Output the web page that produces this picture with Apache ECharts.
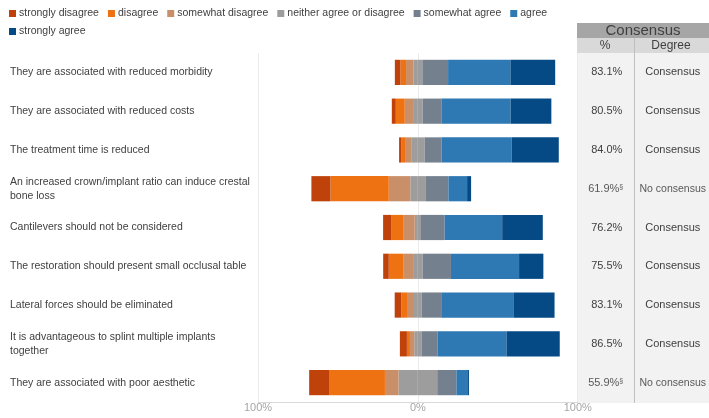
<!DOCTYPE html>
<html>
<head>
<meta charset="utf-8">
<script src="https://cdn.jsdelivr.net/npm/echarts@6/dist/echarts.min.js"></script>
<style>
  html, body { margin: 0; padding: 0; background: #fff; }
  #chart { width: 709px; height: 418px; }
</style>
</head>
<body>
<div id="chart"></div>
<script>
// statements (top to bottom)
const categories = [
  "They are associated with reduced morbidity",
  "They are associated with reduced costs",
  "The treatment time is reduced",
  "An increased crown/implant ratio can induce crestal\nbone loss",
  "Cantilevers should not be considered",
  "The restoration should present small occlusal table",
  "Lateral forces should be eliminated",
  "It is advantageous to splint multiple implants\ntogether",
  "They are associated with poor aesthetic"
];

// answer shares in %
const stronglyDisagree = [3.5, 2.5, 1.5, 11.9, 5.0, 3.5, 4.2, 4.4, 12.4];
const disagree         = [3.5, 5.6, 2.7, 36.5, 7.9, 9.0, 3.5, 1.9, 35.0];
const somewhatDisagree = [4.6, 5.2, 3.4, 13.5, 6.9, 6.2, 4.4, 2.7, 8.5];
const neither          = [5.6, 6.0, 8.3, 9.4, 3.9, 6.0, 4.8, 4.5, 24.2];
const somewhatAgree    = [16.1, 11.7, 10.6, 14.4, 14.8, 17.7, 12.2, 10.0, 12.0];
const agree            = [39.0, 43.3, 44.0, 11.7, 36.0, 42.6, 45.5, 43.2, 7.3];
const stronglyAgree    = [28.0, 25.5, 29.4, 2.5, 25.4, 15.2, 25.4, 33.3, 0.6];

// consensus table
const consensusPct = [83.1, 80.5, 84.0, 61.9, 76.2, 75.5, 83.1, 86.5, 55.9];
const consensusDegree = ["Consensus", "Consensus", "Consensus", "No consensus", "Consensus",
  "Consensus", "Consensus", "Consensus", "No consensus"];

const xTicks = [-100, 0, 100];

const names = ["strongly disagree", "disagree", "somewhat disagree", "neither agree or disagree",
  "somewhat agree", "agree", "strongly agree"];
const colors = ["#bf420b", "#ee7211", "#c98f69", "#9d9d9d", "#75808f", "#2e79b4", "#054a85"];

const font = "Liberation Sans";
const neg = arr => arr.map(v => -v);
const half = arr => arr.map(v => v / 2);

function bar(name, data, color) {
  return {
    name: name,
    type: "bar",
    stack: "total",
    barCategoryGap: "35%",
    data: data,
    itemStyle: { color: color },
    emphasis: { disabled: true }
  };
}

const legendText = { color: "#404040", fontSize: 10.5, fontFamily: font, padding: [0, 0, 0, -2] };

const myChart = echarts.init(document.getElementById("chart"));
myChart.setOption({
  animation: false,
  textStyle: { fontFamily: font },
  legend: [
    {
      data: names.slice(0, 6),
      left: 4, top: 3,
      icon: "rect", itemWidth: 7, itemHeight: 7, itemGap: 9,
      textStyle: legendText,
      selectedMode: false
    },
    {
      data: names.slice(6),
      left: 4, top: 21,
      icon: "rect", itemWidth: 7, itemHeight: 7, itemGap: 9,
      textStyle: legendText,
      selectedMode: false
    }
  ],
  graphic: [
    { type: "rect", z: -10, shape: { x: 577, y: 53, width: 132, height: 350 }, style: { fill: "#f2f2f2" } },
    { type: "rect", z: -10, shape: { x: 577, y: 23, width: 132, height: 15 }, style: { fill: "#a6a6a6" } },
    { type: "rect", z: -10, shape: { x: 577, y: 38, width: 132, height: 15 }, style: { fill: "#d9d9d9" } },
    { type: "line", z: -9, shape: { x1: 634.5, y1: 38, x2: 634.5, y2: 403 }, style: { stroke: "#bfbfbf", lineWidth: 1 } },
    { type: "text", z: 10, style: { x: 643, y: 30.5, text: "Consensus", fill: "#404040", font: "15px " + font, textAlign: "center", textVerticalAlign: "middle" } },
    { type: "text", z: 10, style: { x: 605, y: 46, text: "%", fill: "#404040", font: "12px " + font, textAlign: "center", textVerticalAlign: "middle" } },
    { type: "text", z: 10, style: { x: 671, y: 46, text: "Degree", fill: "#404040", font: "12px " + font, textAlign: "center", textVerticalAlign: "middle" } }
  ],
  grid: { left: 258, right: 131, top: 53, bottom: 16, containLabel: false },
  xAxis: {
    type: "value",
    min: -100, max: 100, interval: 100,
    axisLine: { show: true, lineStyle: { color: "#d9d9d9" } },
    axisTick: { show: false },
    axisLabel: {
      color: "#a6a6a6", fontSize: 11, margin: 0,
      formatter: v => xTicks.indexOf(v) >= 0 ? Math.abs(v) + "%" : ""
    },
    splitLine: { show: true, lineStyle: { color: "#ebebeb" } }
  },
  yAxis: [
    {
      type: "category",
      data: categories,
      inverse: true,
      axisLine: { show: false },
      axisTick: { show: false },
      axisLabel: {
        align: "left", margin: 248,
        color: "#404040", fontSize: 10.5, lineHeight: 14, fontFamily: font
      }
    },
    {
      type: "category",
      data: categories,
      inverse: true,
      position: "right",
      axisLine: { show: false },
      axisTick: { show: false },
      axisLabel: {
        align: "left", margin: 1,
        formatter: (v, i) => {
          const p = consensusPct[i].toFixed(1) + "%";
          if (consensusDegree[i] === "No consensus") {
            // number with a small § mark, same overall width as a plain cell
            return "{sp| }{q|" + p + "}{s|§}{sp2| }{dn|" + consensusDegree[i] + "}";
          }
          return "{p|" + p + "}{d|" + consensusDegree[i] + "}";
        },
        rich: {
          p: { width: 56, align: "center", fontSize: 11, color: "#404040", fontFamily: font },
          sp: { width: 10, fontSize: 11 },
          q: { width: 30, align: "center", fontSize: 11, color: "#595959", fontFamily: font },
          s: { width: 5, align: "center", fontSize: 7, color: "#595959", verticalAlign: "top", lineHeight: 10, fontFamily: font },
          sp2: { width: 11, fontSize: 11 },
          d: { width: 76, align: "center", fontSize: 11, color: "#404040", fontFamily: font },
          dn: { width: 76, align: "center", fontSize: 10.5, color: "#595959", fontFamily: font }
        }
      }
    }
  ],
  series: [
    // left side: stacked outward from 0
    bar(names[3], neg(half(neither)), colors[3]),
    bar(names[2], neg(somewhatDisagree), colors[2]),
    bar(names[1], neg(disagree), colors[1]),
    bar(names[0], neg(stronglyDisagree), colors[0]),
    // right side
    bar(names[3], half(neither), colors[3]),
    bar(names[4], somewhatAgree, colors[4]),
    bar(names[5], agree, colors[5]),
    bar(names[6], stronglyAgree, colors[6])
  ]
});
</script>
</body>
</html>
